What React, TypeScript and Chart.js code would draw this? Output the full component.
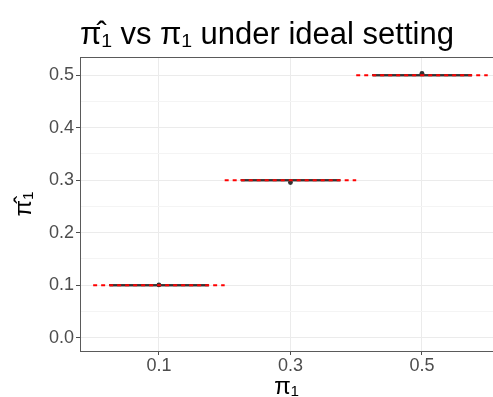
import React, { useEffect, useRef } from 'react';
import { Chart, registerables } from 'chart.js';
Chart.register(...registerables);

const categories = ['0.1', '0.3', '0.5'];
const trueValues = [0.1, 0.3, 0.5];
const boxLower = [0.0988, 0.2988, 0.4988];
const boxMedian = [0.1, 0.3, 0.5];
const boxUpper = [0.1012, 0.3012, 0.5012];
const outlierValues = [[0.1004], [0.2957], [0.5038]];
const yMajorTicks = [0, 0.1, 0.2, 0.3, 0.4, 0.5];
const yMinorTicks = [0.05, 0.15, 0.25, 0.35, 0.45];

const FONT = "'Liberation Sans', Arial, Helvetica, sans-serif";
const BOX_HALF = 0.375;
const REF_HALF = 0.5;

const topBorder = {
  id: 'topBorder',
  afterDraw(chart: any) {
    const { ctx, chartArea } = chart;
    ctx.save();
    ctx.strokeStyle = '#5a5a5a';
    ctx.lineWidth = 1;
    ctx.beginPath();
    ctx.moveTo(chartArea.left, Math.round(chartArea.top) + 0.5);
    ctx.lineTo(chartArea.right, Math.round(chartArea.top) + 0.5);
    ctx.stroke();
    ctx.restore();
  },
};

export default function App() {
  const ref = useRef<HTMLCanvasElement>(null);
  useEffect(() => {
    if (!ref.current) return;
    const boxPath: any[] = [];
    const medianPath: any[] = [];
    const refPath: any[] = [];
    const outliers: any[] = [];
    categories.forEach((_, i) => {
      boxPath.push(
        { x: i - BOX_HALF, y: boxLower[i] },
        { x: i + BOX_HALF, y: boxLower[i] },
        { x: i + BOX_HALF, y: boxUpper[i] },
        { x: i - BOX_HALF, y: boxUpper[i] },
        { x: i - BOX_HALF, y: boxLower[i] },
        { x: i + BOX_HALF + 0.01, y: null }
      );
      medianPath.push(
        { x: i - BOX_HALF, y: boxMedian[i] },
        { x: i + BOX_HALF, y: boxMedian[i] },
        { x: i + BOX_HALF + 0.01, y: null }
      );
      refPath.push(
        { x: i - REF_HALF, y: trueValues[i] },
        { x: i + REF_HALF, y: trueValues[i] },
        { x: i + REF_HALF + 0.001, y: null }
      );
      outlierValues[i].forEach((v) => outliers.push({ x: i, y: v }));
    });
    const isMajor = (v: number) => yMajorTicks.some((m) => Math.abs(m - v) < 1e-9);
    const chart = new Chart(ref.current, {
      type: 'scatter',
      data: {
        datasets: [
          {
            data: refPath,
            showLine: true,
            borderColor: '#ff0000',
            borderWidth: 2,
            borderDash: [4, 4],
            pointRadius: 0,
            spanGaps: false,
            order: 0,
          } as any,
          {
            data: outliers,
            pointRadius: 2.4,
            pointBackgroundColor: '#333333',
            pointBorderColor: '#333333',
            pointBorderWidth: 0,
            showLine: false,
            order: 1,
          },
          {
            data: medianPath,
            showLine: true,
            borderColor: '#333333',
            borderWidth: 1.5,
            pointRadius: 0,
            spanGaps: false,
            order: 2,
          },
          {
            data: boxPath,
            showLine: true,
            borderColor: '#4d4d4d',
            borderWidth: 1.2,
            backgroundColor: '#4d4d4d',
            pointRadius: 0,
            spanGaps: false,
            order: 3,
          },
        ],
      },
      options: {
        responsive: false,
        animation: false,
        layout: { padding: 0 },
        plugins: {
          legend: { display: false },
          tooltip: { enabled: false },
          title: {
            display: true,
            text: 'π\u0302\u2081 vs π\u2081 under ideal setting',
            align: 'start',
            fullSize: false,
            color: '#000000',
            font: { family: FONT, size: 31, weight: 'normal' },
            padding: { top: 17, bottom: 3 },
          },
        },
        scales: {
          x: {
            type: 'linear',
            min: -0.6,
            max: 2.54,
            afterBuildTicks: (scale: any) => {
              scale.ticks = categories.map((_, i) => ({ value: i }));
            },
            afterFit: (scale: any) => {
              scale.height = 46;
              scale.paddingLeft = 0;
              scale.paddingRight = 0;
            },
            ticks: {
              autoSkip: false,
              maxRotation: 0,
              padding: 0,
              color: '#4d4d4d',
              font: { family: FONT, size: 18 },
              callback: (_v: any, idx: number) => categories[idx],
            },
            grid: {
              color: '#ebebeb',
              lineWidth: 1,
              tickLength: 4,
              tickColor: '#4d4d4d',
            },
            border: { display: true, color: '#5a5a5a', width: 1 },
            title: {
              display: true,
              text: 'π\u2081',
              color: '#000000',
              font: { family: FONT, size: 24 },
              padding: { top: 0, bottom: -5 },
            },
          },
          y: {
            type: 'linear',
            min: -0.0255,
            max: 0.5345,
            afterBuildTicks: (scale: any) => {
              scale.ticks = [...yMajorTicks, ...yMinorTicks]
                .sort((a, b) => a - b)
                .map((v) => ({ value: v }));
            },
            afterFit: (scale: any) => {
              scale.width = 80;
              scale.paddingTop = 0;
              scale.paddingBottom = 0;
            },
            ticks: {
              autoSkip: false,
              padding: 2,
              color: '#4d4d4d',
              font: { family: FONT, size: 18 },
              callback: (v: any) => (isMajor(Number(v)) ? Number(v).toFixed(1) : ''),
            },
            grid: {
              color: (ctx: any) => (isMajor(ctx.tick?.value) ? '#ebebeb' : '#f4f4f4'),
              lineWidth: 1,
              tickLength: 4,
              tickColor: (ctx: any) => (isMajor(ctx.tick?.value) ? '#4d4d4d' : 'rgba(0,0,0,0)'),
            },
            border: { display: true, color: '#5a5a5a', width: 1 },
            title: {
              display: true,
              text: 'π\u0302\u2081',
              color: '#000000',
              font: { family: FONT, size: 24 },
              padding: { top: 10, bottom: 0 },
            },
          },
        },
      },
      plugins: [topBorder],
    } as any);
    return () => chart.destroy();
  }, []);
  return (
    <div style={{ position: 'fixed', left: 0, top: 0, width: 497, height: 397, background: '#fff' }}>
      <canvas ref={ref} width={497} height={397} style={{ display: 'block' }} />
    </div>
  );
}
